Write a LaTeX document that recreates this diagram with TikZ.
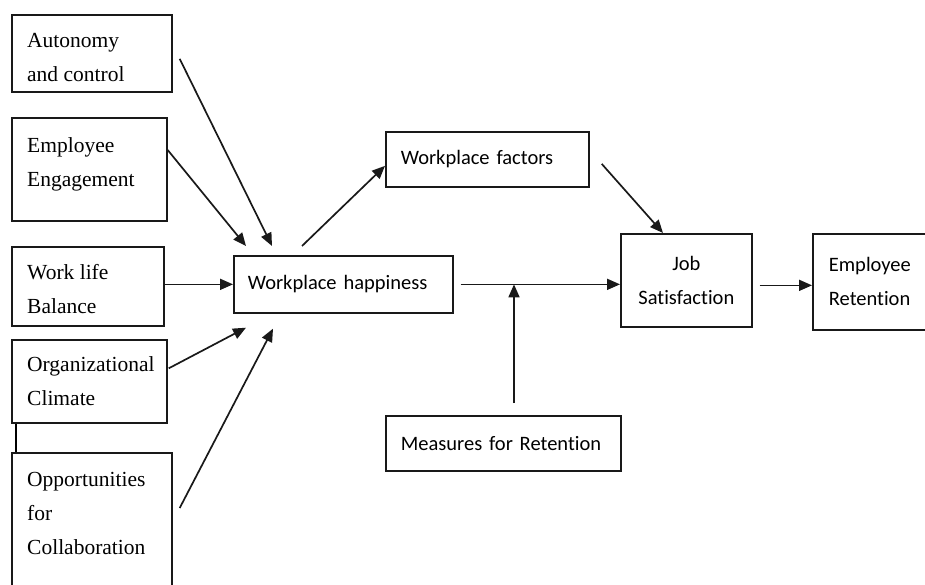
\documentclass[tikz,border=0pt]{standalone}
\usepackage{fontspec}
\setmainfont{Liberation Serif}
\newfontfamily\calibfont[Ligatures=NoCommon]{Carlito}
\usetikzlibrary{arrows.meta,calc}
\begin{document}
\begin{tikzpicture}[x=1pt,y=-1pt,
  box/.style={draw=black!90, line width=1.7pt, rectangle, inner sep=0pt, anchor=north west},
  ser/.style={anchor=base west, inner sep=0pt, text=black, font=\fontsize{21.5}{34}\selectfont},
  cal/.style={text=black, font=\calibfont\fontsize{20.5}{34}\selectfont},
  arr/.style={line width=1.7pt, draw=black!90, -{Triangle[length=13pt,width=11pt]}},
  link/.style={line width=2.6pt, draw=black}
]
\useasboundingbox (0,0) rectangle (925,585);

% left boxes (serif)
\node[box, minimum width=160pt, minimum height=77pt] (aut) at (11,14) {};
\node[ser] (autT) at (27,48) {\begin{tabular}[t]{@{}l@{}}Autonomy\\and control\end{tabular}};

\node[box, minimum width=155pt, minimum height=103pt] (eng) at (11,117) {};
\node[ser] (engT) at (27,153) {\begin{tabular}[t]{@{}l@{}}Employee\\Engagement\end{tabular}};

\node[box, minimum width=152pt, minimum height=79pt] (wlb) at (11,246) {};
\node[ser] (wlbT) at (27,279) {\begin{tabular}[t]{@{}l@{}}Work life\\Balance\end{tabular}};

\node[box, minimum width=155pt, minimum height=83pt] (org) at (11,339) {};
\node[ser] (orgT) at (27,371) {\begin{tabular}[t]{@{}l@{}}Organizational\\Climate\end{tabular}};

\node[box, minimum width=160pt, minimum height=160pt] (opp) at (11,452) {};
\node[ser] (oppT) at (27,486) {\begin{tabular}[t]{@{}l@{}}Opportunities\\for\\Collaboration\end{tabular}};

% right boxes (sans)
\node[box, cal, minimum width=219pt, minimum height=57pt, inner xsep=14pt, text width=191pt, align=left] (wh) at (233,255) {Workplace happiness};
\node[box, cal, minimum width=203pt, minimum height=55pt, inner xsep=15pt, text width=173pt, align=left] (wf) at (385,131) {Workplace factors};
\node[box, cal, minimum width=131pt, minimum height=93pt, inner xsep=4pt, text width=123pt, align=center] (js) at (620,233) {Job\\Satisfaction};
\node[box, cal, minimum width=140pt, minimum height=96pt, inner xsep=16pt, text width=108pt, align=left] (er) at (812,233) {Employee\\Retention};
\node[box, cal, minimum width=235pt, minimum height=55pt, inner xsep=15pt, text width=205pt, align=left] (mr) at (385,415) {Measures for Retention};

% connectors into Workplace happiness
\draw[arr] ($(aut.east)+(7,5.5)$) -- ($(wh.north west)+(39,-9)$);
\draw[arr] ($(eng.north east)+(0,33)$) -- ($(wh.north west)+(13,-9)$);
\draw[arr] (wlb.east |- wh.west) -- (wh.west);
\draw[arr] ($(org.east)+(1,-13)$) -- ($(wh.south west)+(13,14)$);
\draw[arr] ($(opp.north east)+(7,56)$) -- ($(wh.south west)+(40,15)$);
\draw[link] ($(org.south west)+(5,0)$) -- ($(opp.north west)+(5,0)$);

% Workplace happiness -> factors -> Job Satisfaction
\draw[arr] ($(wh.north west)+(69,-9)$) -- ($(wf.west)+(0,6.5)$);
\draw[arr] ($(wf.east)+(12,4.5)$) -- ($(js.north west)+(43,0)$);

% main line
\coordinate (whout) at ($(wh.east)+(7,0)$);
\draw[arr] (whout) -- (js.west |- whout);
\coordinate (mtop) at ($(mr.north west)+(129,-12)$);
\draw[arr] (mtop) -- (mtop |- whout);
\coordinate (jsout) at ($(js.east)+(7,5)$);
\draw[arr] (jsout) -- (er.west |- jsout);
\end{tikzpicture}
\end{document}
